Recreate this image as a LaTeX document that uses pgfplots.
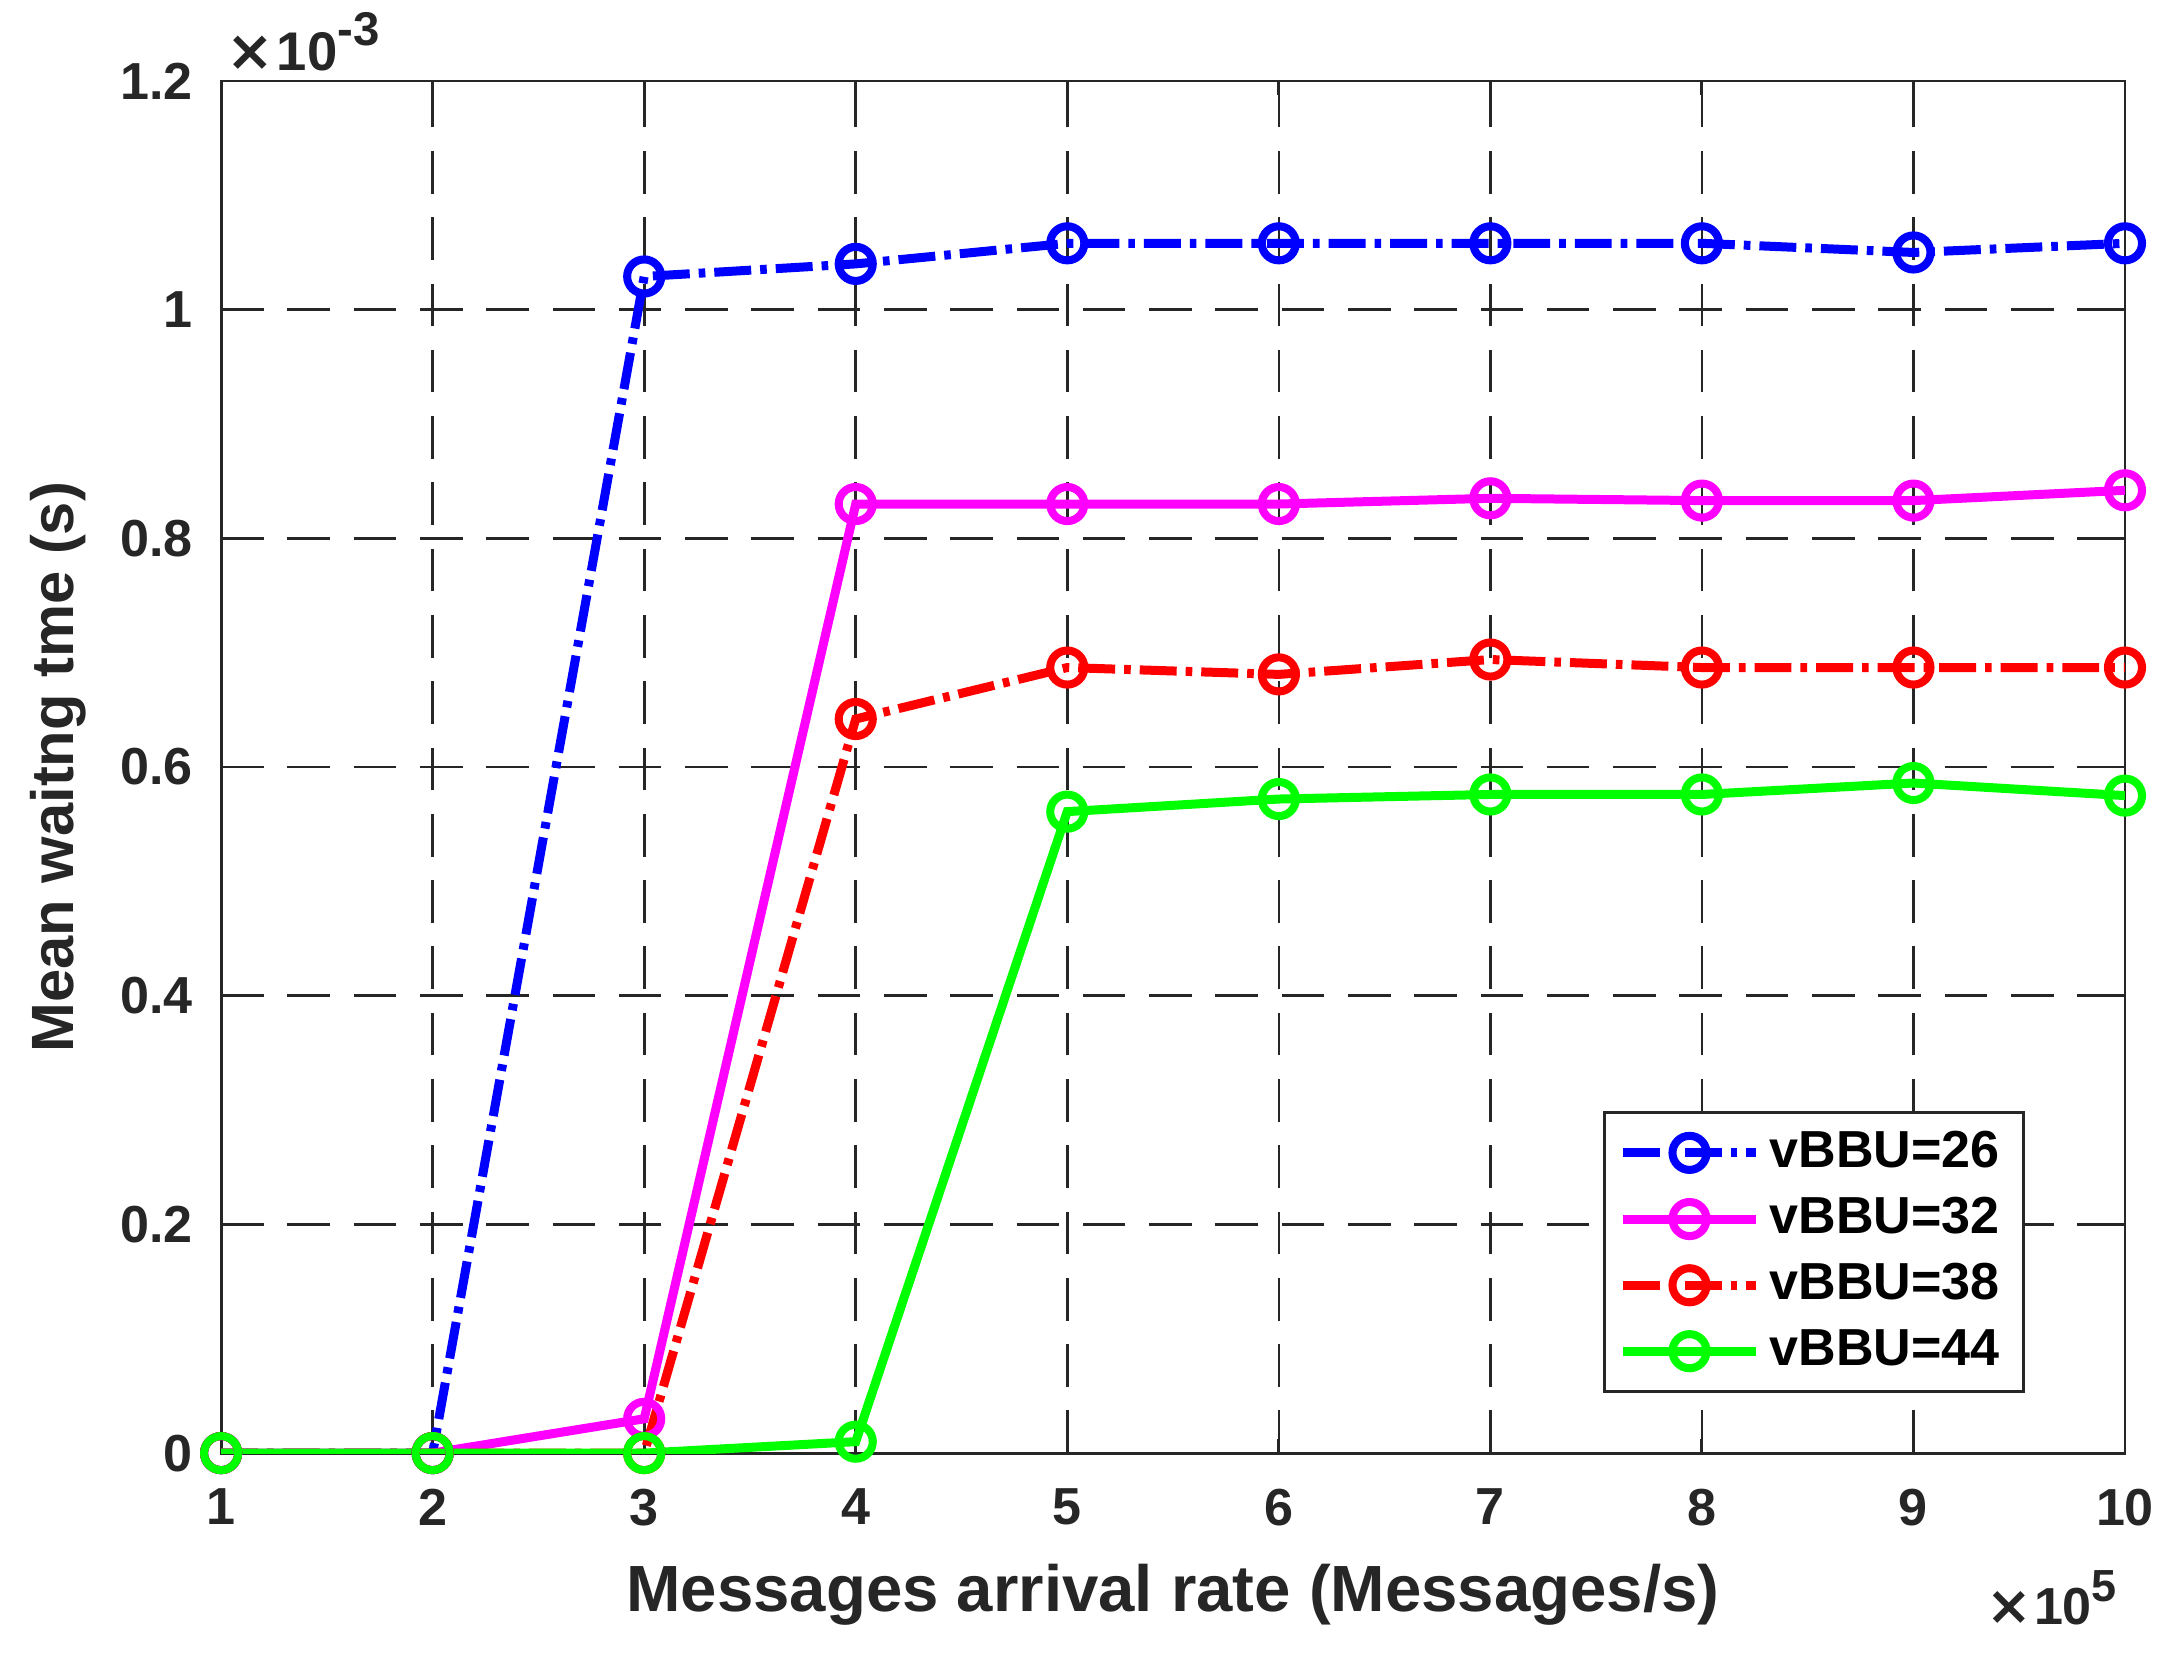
\documentclass[border=0pt]{standalone}
\usepackage{pgfplots}
\pgfplotsset{compat=1.18}
\usepackage{fontspec}
\setmainfont{Liberation Sans}
\newfontfamily\dejavu{DejaVu Sans}
\definecolor{gridc}{RGB}{38,38,38}
\definecolor{cblue}{RGB}{0,0,255}
\definecolor{cmag}{RGB}{255,0,255}
\definecolor{cred}{RGB}{255,0,0}
\definecolor{cgreen}{RGB}{0,255,0}
\begin{document}
\begin{tikzpicture}
\begin{axis}[
  at={(0,0)}, anchor=south west,
  scale only axis, width=402.1pt, height=289.8pt,
  xmin=1, xmax=10, ymin=0, ymax=1.2,
  xtick={1,2,3,4,5,6,7,8,9,10},
  ytick={0,0.2,0.4,0.6,0.8,1,1.2},
  yticklabels={0,0.2,0.4,0.6,0.8,1,1.2},
  tick align=inside, major tick length=3pt,
  tick style={gridc, line width=0.6pt},
  axis line style={gridc, line width=0.6pt},
  grid=major,
  major grid style={gridc, line width=0.55pt, dash pattern=on 9pt off 5pt},
  ticklabel style={font=\bfseries\fontsize{11}{13}\selectfont, text=gridc},
  /pgf/number format/assume math mode=true,
  xticklabel style={yshift=-4pt},
  yticklabel style={xshift=-2.5pt},
  xlabel={Messages arrival rate (Messages/s)},
  ylabel={Mean waitng tme (s)},
  xlabel style={font=\bfseries\fontsize{13.8}{16}\selectfont, text=gridc, at={(axis description cs:0.5,-0.1035)}, anchor=center},
  ylabel style={font=\bfseries\fontsize{12.6}{15}\selectfont, text=gridc, at={(axis description cs:-0.0856,0.5)}, anchor=center},
  legend style={at={(axis description cs:0.9475,0.0438)}, anchor=south east,
    draw=gridc, line width=0.6pt, fill=white,
    font=\bfseries\fontsize{11}{13}\selectfont,
    inner xsep=3pt, inner ysep=2pt, row sep=0.8pt},
  legend cell align=left,
  legend image code/.code={\draw[mark repeat=2,mark phase=2] plot coordinates {(0pt,0pt) (14pt,0pt) (28pt,0pt)};},
  every axis plot/.append style={line width=1.9pt, mark=o, mark size=3.6pt},
]
\addplot[cblue, dash pattern=on 7.8pt off 1.9pt on 1.4pt off 1.9pt, mark options={solid, line width=1.7pt}]
  coordinates {(1,0) (2,0) (3,1.029) (4,1.040) (5,1.058) (6,1.058) (7,1.058) (8,1.058) (9,1.050) (10,1.058)};
\addplot[cmag, mark options={solid, line width=1.7pt}]
  coordinates {(1,0) (2,0) (3,0.030) (4,0.830) (5,0.830) (6,0.830) (7,0.835) (8,0.833) (9,0.833) (10,0.842)};
\addplot[cred, dash pattern=on 7.8pt off 1.9pt on 1.4pt off 1.9pt, mark options={solid, line width=1.7pt}]
  coordinates {(1,0) (2,0) (3,0) (4,0.642) (5,0.687) (6,0.681) (7,0.694) (8,0.687) (9,0.687) (10,0.687)};
\addplot[cgreen, mark options={solid, line width=1.7pt}]
  coordinates {(1,0) (2,0) (3,0) (4,0.010) (5,0.561) (6,0.572) (7,0.576) (8,0.576) (9,0.586) (10,0.575)};
\legend{vBBU=26,vBBU=32,vBBU=38,vBBU=44}
\end{axis}
\node[anchor=base west, font=\bfseries\fontsize{11.5}{13}\selectfont, text=gridc, inner sep=0pt] at (1.0pt,292.1pt) {{\dejavu\fontsize{12}{13}\selectfont ×}\hspace{0.5pt}10\raisebox{0.45em}{\fontsize{10}{11}\selectfont -3}};
\node[anchor=base east, font=\bfseries\fontsize{11}{13}\selectfont, text=gridc, inner sep=0pt] at (400.6pt,-36.3pt) {{\dejavu\fontsize{11.5}{13}\selectfont ×}\hspace{0.3pt}10\raisebox{0.45em}{\fontsize{9.5}{10}\selectfont 5}};
\pgfresetboundingbox
\path[use as bounding box] (-46.7pt,-43.3pt) rectangle (413.3pt,306.9pt);
\end{tikzpicture}
\end{document}
